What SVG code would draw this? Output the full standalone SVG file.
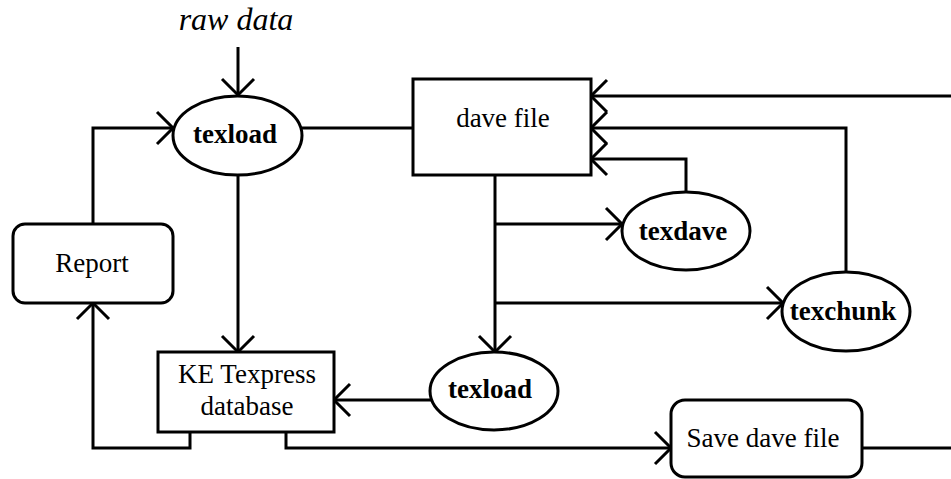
<svg xmlns="http://www.w3.org/2000/svg" width="951" height="479" viewBox="0 0 951 479">
<style>
.s{fill:#fff;stroke:#000;stroke-width:3}
.c{fill:none;stroke:#000;stroke-width:3;stroke-linejoin:miter}
.t{font-family:"Liberation Serif","Times New Roman",serif;font-size:27px;fill:#000;text-anchor:middle}
.b{font-weight:bold}
.i{font-style:italic;font-size:32px}
</style>
<defs>
<marker id="arr" markerUnits="userSpaceOnUse" markerWidth="40" markerHeight="40" viewBox="-20 -20 40 40" refX="0" refY="0" orient="auto" overflow="visible">
<path d="M-16,-16 L0,0 L-16,16" fill="none" stroke="#000" stroke-width="3"/>
</marker>
</defs>
<rect width="951" height="479" fill="#fff"/>
<text class="t i" x="236" y="30">raw data</text>
<g id="connectors">
<path class="c" d="M238,47 V95" marker-end="url(#arr)"/>
<path class="c" d="M302,128 H413"/>
<path class="c" d="M93,224 V128 H173" marker-end="url(#arr)"/>
<path class="c" d="M238,175 V352" marker-end="url(#arr)"/>
<path class="c" d="M495,175 V352" marker-end="url(#arr)"/>
<path class="c" d="M495,224 H622" marker-end="url(#arr)"/>
<path class="c" d="M495,303 H783" marker-end="url(#arr)"/>
<path class="c" d="M686,192 V159 H591" marker-end="url(#arr)"/>
<path class="c" d="M846,272 V128 H591" marker-end="url(#arr)"/>
<path class="c" d="M951,96 H591" marker-end="url(#arr)"/>
<path class="c" d="M431,400 H334" marker-end="url(#arr)"/>
<path class="c" d="M190,432 V448 H93 V303" marker-end="url(#arr)"/>
<path class="c" d="M286,432 V448 H671" marker-end="url(#arr)"/>
<path class="c" d="M862,448 H951"/>
</g>
<g id="texload1">
<ellipse class="s" cx="237.5" cy="135.5" rx="64.5" ry="39.5"/>
<text class="t b" x="235" y="143">texload</text>
</g>
<g id="davefile">
<rect class="s" x="413" y="79" width="178" height="96"/>
<text class="t" x="503" y="127">dave file</text>
</g>
<g id="texdave">
<ellipse class="s" cx="686" cy="231" rx="64" ry="39"/>
<text class="t b" x="683" y="240">texdave</text>
</g>
<g id="texchunk">
<ellipse class="s" cx="846" cy="311.5" rx="64" ry="39.5"/>
<text class="t b" x="843" y="320">texchunk</text>
</g>
<g id="texload2">
<ellipse class="s" cx="494" cy="391" rx="64" ry="39"/>
<text class="t b" x="490" y="398">texload</text>
</g>
<g id="report">
<rect class="s" x="13" y="224" width="160" height="79" rx="12"/>
<text class="t" x="92" y="272">Report</text>
</g>
<g id="ketexpress">
<rect class="s" x="158" y="352" width="176" height="80"/>
<text class="t" x="247" y="383">KE Texpress</text>
<text class="t" x="247" y="415">database</text>
</g>
<g id="savedave">
<rect class="s" x="671" y="400" width="191" height="77" rx="14"/>
<text class="t" x="763" y="447">Save dave file</text>
</g>
</svg>
